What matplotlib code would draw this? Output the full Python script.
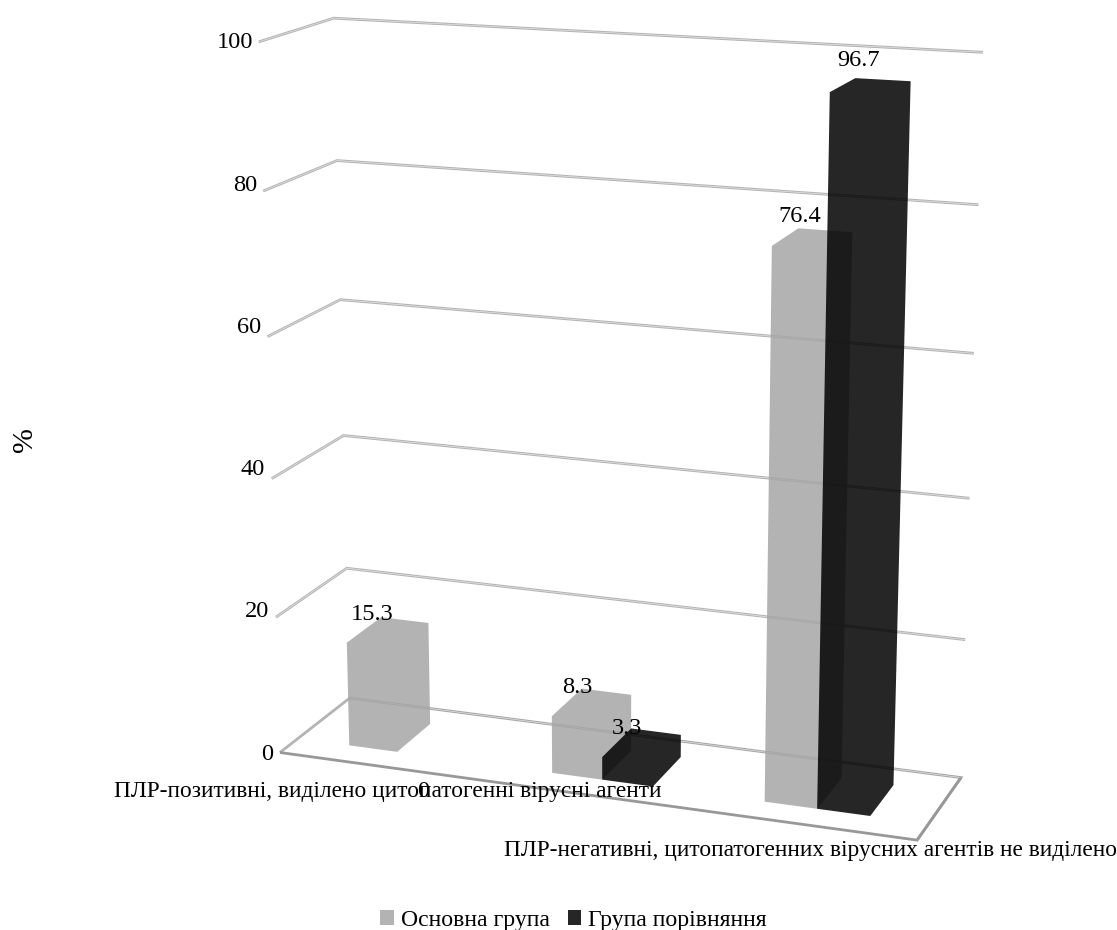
import numpy as np
import matplotlib
matplotlib.use("Agg")
import matplotlib.pyplot as plt
from matplotlib.patches import Patch, Polygon

plt.rcParams['font.family'] = ['Liberation Serif', 'DejaVu Serif']

categories = ["ПЛР-позитивні, виділено цитопатогенні вірусні агенти",
              "ПЛР-негативні, цитопатогенних вірусних агентів не виділено"]
series_names = ["Основна група", "Група порівняння"]
main_group = [15.3, 8.3, 76.4]
control_group = [0, 3.3, 96.7]
value_ticks = [0, 20, 40, 60, 80, 100]

GREY = "#a6a6a6"
DARK = "#000000"
FONT = 17.6
CAT_FONT = 16.85
BAR_W = 0.08
DEPTH = (0.25, 0.75)

# camera calibration: (x, depth, value) -> pixel position of the box corners
wall_front = [(280, 752), (276, 617), (272, 478), (268, 337), (263, 191), (258, 42)]
wall_back = [(348, 698), (347, 569), (344, 436), (341, 300), (338, 160), (333, 18)]
side_back = [(962, 776), (965, 640), (969, 499), (974, 353), (978, 205), (983, 52)]
floor_corner = (917, 841)


def fit_camera():
    world, pix = [], []
    for i, v in enumerate(value_ticks):
        world += [(0, 0, v), (0, 1, v), (1, 1, v)]
        pix += [wall_front[i], wall_back[i], side_back[i]]
    world.append((1, 0, 0))
    pix.append(floor_corner)
    rows = []
    for (x, d, v), (u, w) in zip(world, pix):
        p = [x, d, v / 100, 1]
        u, w = u / 1000, w / 1000
        rows.append(p + [0, 0, 0, 0] + [-u * c for c in p])
        rows.append([0, 0, 0, 0] + p + [-w * c for c in p])
    return np.linalg.svd(np.array(rows))[2][-1].reshape(3, 4)


CAM = fit_camera()


def project(x, d, v):
    q = CAM @ np.array([x, d, v / 100, 1])
    return q[0] / q[2] * 1000, q[1] / q[2] * 1000


def hull(points):
    pts = sorted(points)

    def half(seq):
        out = []
        for p in seq:
            while len(out) > 1 and ((out[-1][0] - out[-2][0]) * (p[1] - out[-2][1]) -
                                    (out[-1][1] - out[-2][1]) * (p[0] - out[-2][0])) <= 0:
                out.pop()
            out.append(p)
        return out[:-1]

    return half(pts) + half(pts[::-1])


def draw_bar(ax, x0, value, color, z):
    # every face has the same flat fill, so only the outline of the box is filled
    corners = [project(x, d, v) for x in (x0, x0 + BAR_W)
               for d in DEPTH for v in (0, value)]
    ax.add_patch(Polygon(hull(corners), closed=True, fc=color, ec="none",
                         alpha=0.85, zorder=z))


def grid_line(ax, pts, color, lw):
    xy = np.array([project(*p) for p in pts])
    ax.plot(xy[:, 0], xy[:, 1], color=color, lw=lw, zorder=1,
            solid_joinstyle="miter", solid_capstyle="butt")


fig = plt.figure(figsize=(11.17, 9.3), dpi=100)
ax = fig.add_axes([0, 0, 1, 1])
ax.set_xlim(0, 1117)
ax.set_ylim(930, 0)
ax.axis("off")

for v in value_ticks:
    if v > 0:
        grid_line(ax, [(0, 0, v), (0, 1, v), (1, 1, v)], "#b4b4b4", 2.0)
        grid_line(ax, [(0, 0, v), (0, 1, v), (1, 1, v)], "#e4e4e4", 0.5)
    # tick labels sit on an even column left of the wall
    ax.text(273 - v * 0.2, 754 - v * 7.11, str(v), ha="right", va="center", fontsize=FONT)

# floor of the box
grid_line(ax, [(0, 1, 0), (1, 1, 0), (1, 0, 0)], "#a8a8a8", 2.0)
grid_line(ax, [(0, 1, 0), (1, 1, 0)], "#e0e0e0", 0.5)
grid_line(ax, [(0, 1, 0), (0, 0, 0)], "#b4b4b4", 2.0)
grid_line(ax, [(0, 0, 0), (1, 0, 0), (1, 1, 0)], "#989898", 2.0)

for i in range(3):
    centre = (i + 0.5) / 3
    draw_bar(ax, centre - BAR_W, main_group[i], GREY, 2)
    if control_group[i] > 0:
        draw_bar(ax, centre, control_group[i], DARK, 3)

label_pos = [(372, 614), (577, 687), (800, 216)]
for v, (tx, ty) in zip(main_group, label_pos):
    ax.text(tx, ty, str(v), ha="center", va="center", fontsize=FONT, zorder=5)
label_pos = [(423, 791), (627, 728), (859, 61)]
for v, (tx, ty) in zip(control_group, label_pos):
    ax.text(tx, ty, str(v), ha="center", va="center", fontsize=FONT, zorder=5)

ax.text(387.5, 791, categories[0], ha="center", va="center", fontsize=CAT_FONT, zorder=5)
ax.text(810, 850, categories[1], ha="center", va="center", fontsize=CAT_FONT, zorder=5)
ax.text(25, 440, "%", rotation=90, ha="center", va="center", fontsize=21.5)

handles = [Patch(fc=GREY, ec="none", alpha=0.85, label=series_names[0]),
           Patch(fc=DARK, ec="none", alpha=0.85, label=series_names[1])]
ax.legend(handles=handles, ncol=2, loc="center", frameon=False, fontsize=17.1,
          bbox_to_anchor=(573.5 / 1117, 1 - 920.5 / 930), handlelength=0.58,
          handleheight=0.58, handletextpad=0.29, columnspacing=0.75,
          borderpad=0, borderaxespad=0)

fig.savefig("out.png", dpi=100)
